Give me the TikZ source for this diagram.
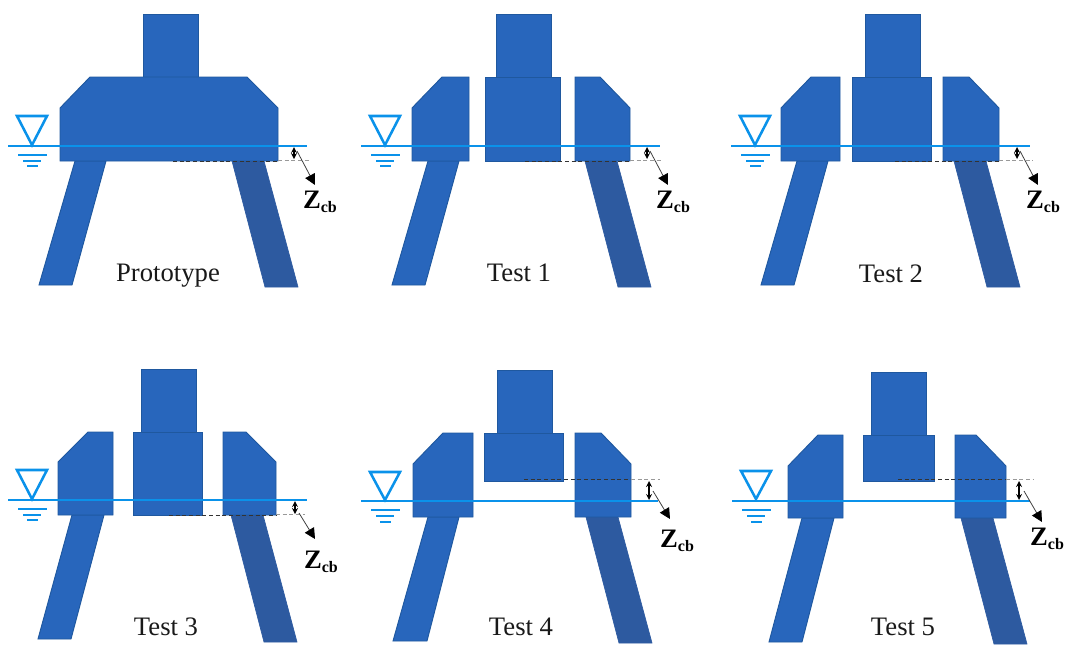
\documentclass[tikz,border=0pt]{standalone}
\usepackage{fontspec}
\setmainfont{Liberation Serif}
\usepackage{xcolor}
\usetikzlibrary{arrows.meta}
\definecolor{hullblue}{HTML}{2866BC}
\definecolor{edgeblue}{HTML}{1F589F}
\definecolor{legdark}{HTML}{2D5AA0}
\definecolor{waterblue}{HTML}{0A92EA}

\begin{document}
\begin{tikzpicture}[
        x=0.75pt, y=-0.75pt,
        >=stealth,
        body/.style={draw=edgeblue, fill=hullblue, line width=0.7pt},
        rearleg/.style={fill=legdark, draw=legdark, line width=0.5pt},
        water/.style={draw=waterblue, line width=1.9pt},
        ripple/.style={draw=waterblue, line width=1.5pt},
        datum/.style={densely dashed, black!80, line width=0.6pt},
        guide/.style={densely dashed, black!40, line width=0.6pt},
        depth/.style={<->, black, line width=1pt},
        lead/.style={-{Triangle[length=8pt,width=8pt,black]}, black!75, line width=0.6pt},
        caption/.style={font=\fontsize{20}{24}\selectfont, text=black!90, inner sep=0pt},
        zlabel/.style={font=\fontsize{20}{24}\selectfont\bfseries, inner sep=0pt}
    ]
        \useasboundingbox (0,0) rectangle (1065,644);

        % ================= PROTOTYPE =================

        % Patas
        \draw[body] (75,161) -- (106,161) -- (72,285) -- (39,285) -- cycle;
        \draw[rearleg] (232,161) -- (264,161) -- (298,287) -- (265,287) -- cycle;

        % Casco y torre
        \draw[body] (143,14) rectangle (198,77);
        \draw[body] (60,108) -- (90,77) -- (247,77) -- (278,108) -- (278,161) -- (60,161) -- cycle;

        % Nivel de agua
        \draw[water] (8,146) -- (307,146);
        \draw[water] (17,116) -- (47,116) -- (32,145) -- cycle;
        \draw[ripple] (18,155) -- (47,155);
        \draw[ripple] (23,160.5) -- (41,160.5);
        \draw[ripple] (27,166) -- (38,166);

        % Cota
        \draw[datum] (173,161) -- (278,161);
        \draw[guide] (278,160) -- (310,160);
        \coordinate (pa) at (294,147);
        \coordinate (pb) at (294,159);
        \coordinate (pc) at (297,151);
        \coordinate (pd) at (315,185);
        \draw[depth] (pa) -- (pb);
        \draw[lead] (pc) -- (pd);
        \node[zlabel] (pz) at (320,202) {Z{\fontsize{12}{12}\selectfont\raisebox{-3pt}{cb}}};
        \node[caption] (pname) at (168,276) {Prototype};

        % ================= TEST 1 =================

        % Patas
        \draw[body] (428,161) -- (459,161) -- (425,285) -- (392,285) -- cycle;
        \draw[rearleg] (585,161) -- (617,161) -- (651,287) -- (618,287) -- cycle;

        % Pontones y torre
        \draw[body] (496,14) rectangle (551,77);
        \draw[body] (485,77) rectangle (560,161);
        \draw[body] (412,108) -- (442,77) -- (469,77) -- (469,161) -- (412,161) -- cycle;
        \draw[body] (575,77) -- (600,77) -- (630,108) -- (630,161) -- (575,161) -- cycle;

        % Nivel de agua
        \draw[water] (361,146) -- (660,146);
        \draw[water] (370,116) -- (400,116) -- (385,145) -- cycle;
        \draw[ripple] (371,155) -- (400,155);
        \draw[ripple] (376,160.5) -- (394,160.5);
        \draw[ripple] (380,166) -- (391,166);

        % Cota
        \draw[datum] (525,161) -- (630,161);
        \draw[guide] (630,160) -- (663,160);
        \coordinate (aa) at (647,147);
        \coordinate (ab) at (647,159);
        \coordinate (ac) at (650,151);
        \coordinate (ad) at (668,185);
        \draw[depth] (aa) -- (ab);
        \draw[lead] (ac) -- (ad);
        \node[zlabel] (az) at (673,202) {Z{\fontsize{12}{12}\selectfont\raisebox{-3pt}{cb}}};
        \node[caption] (aname) at (519,273) {Test 1};

        % ================= TEST 2 =================

        % Patas
        \draw[body] (797,161) -- (828,161) -- (794,285) -- (761,285) -- cycle;
        \draw[rearleg] (954,161) -- (986,161) -- (1020,287) -- (987,287) -- cycle;

        % Pontones y torre
        \draw[body] (865,14) rectangle (920,77);
        \draw[body] (852,77) rectangle (931,161);
        \draw[body] (781,108) -- (811,77) -- (840,77) -- (840,161) -- (781,161) -- cycle;
        \draw[body] (943,77) -- (969,77) -- (999,108) -- (999,161) -- (943,161) -- cycle;

        % Nivel de agua
        \draw[water] (731,146) -- (1030,146);
        \draw[water] (740,116) -- (770,116) -- (755,145) -- cycle;
        \draw[ripple] (741,155) -- (770,155);
        \draw[ripple] (746,160.5) -- (764,160.5);
        \draw[ripple] (750,166) -- (761,166);

        % Cota
        \draw[datum] (895,161) -- (999,161);
        \draw[guide] (999,160) -- (1033,160);
        \coordinate (ba) at (1017,147);
        \coordinate (bb) at (1017,159);
        \coordinate (bc) at (1020,151);
        \coordinate (bd) at (1038,185);
        \draw[depth] (ba) -- (bb);
        \draw[lead] (bc) -- (bd);
        \node[zlabel] (bz) at (1043,202) {Z{\fontsize{12}{12}\selectfont\raisebox{-3pt}{cb}}};
        \node[caption] (bname) at (891,274) {Test 2};

        % ================= TEST 3 =================

        % Patas
        \draw[body] (72,515) -- (104,515) -- (71,639) -- (38,639) -- cycle;
        \draw[rearleg] (231,515) -- (263,515) -- (297,642) -- (264,642) -- cycle;

        % Pontones y torre
        \draw[body] (141,369) rectangle (196,432);
        \draw[body] (133,432) rectangle (202,515);
        \draw[body] (58,462) -- (88,432) -- (113,432) -- (113,515) -- (58,515) -- cycle;
        \draw[body] (223,432) -- (246,432) -- (276,462) -- (276,515) -- (223,515) -- cycle;

        % Nivel de agua
        \draw[water] (8,500) -- (307,500);
        \draw[water] (17,470) -- (47,470) -- (32,499) -- cycle;
        \draw[ripple] (18,509) -- (47,509);
        \draw[ripple] (23,514.5) -- (41,514.5);
        \draw[ripple] (27,520) -- (38,520);

        % Cota
        \draw[datum] (169,515) -- (276,515);
        \draw[guide] (276,514) -- (305,514);
        \coordinate (ca) at (295,501);
        \coordinate (cb) at (295,514);
        \coordinate (cc) at (299,513);
        \coordinate (cd) at (315,539);
        \draw[depth] (ca) -- (cb);
        \draw[lead] (cc) -- (cd);
        \node[zlabel] (cz) at (321,562) {Z{\fontsize{12}{12}\selectfont\raisebox{-3pt}{cb}}};
        \node[caption] (cname) at (166,627) {Test 3};

        % ================= TEST 4 =================

        % Patas
        \draw[body] (428,517) -- (459,517) -- (427,641) -- (393,641) -- cycle;
        \draw[rearleg] (586,517) -- (618,517) -- (652,643) -- (619,643) -- cycle;

        % Pontones y torre
        \draw[body] (497,370) rectangle (552,433);
        \draw[body] (484,433) rectangle (563,481);
        \draw[body] (413,464) -- (443,433) -- (473,433) -- (473,517) -- (413,517) -- cycle;
        \draw[body] (575,433) -- (601,433) -- (631,464) -- (631,517) -- (575,517) -- cycle;

        % Nivel de agua
        \draw[water] (361,501) -- (658,501);
        \draw[water] (370,472) -- (400,472) -- (385,500) -- cycle;
        \draw[ripple] (371,510) -- (400,510);
        \draw[ripple] (376,515.5) -- (394,515.5);
        \draw[ripple] (380,522) -- (391,522);

        % Cota
        \draw[datum] (524,479) -- (631,479);
        \draw[guide] (631,479) -- (660,479);
        \coordinate (da) at (649,481);
        \coordinate (db) at (649,500);
        \coordinate (dc) at (653,491);
        \coordinate (dd) at (670,519);
        \draw[depth] (da) -- (db);
        \draw[lead] (dc) -- (dd);
        \node[zlabel] (dz) at (677,541) {Z{\fontsize{12}{12}\selectfont\raisebox{-3pt}{cb}}};
        \node[caption] (dname) at (521,627) {Test 4};

        % ================= TEST 5 =================

        % Patas
        \draw[body] (802,518) -- (834,518) -- (802,642) -- (769,642) -- cycle;
        \draw[rearleg] (961,518) -- (993,518) -- (1027,644) -- (994,644) -- cycle;

        % Pontones y torre
        \draw[body] (871,372) rectangle (926,435);
        \draw[body] (863,435) rectangle (934,481);
        \draw[body] (788,466) -- (818,435) -- (843,435) -- (843,518) -- (788,518) -- cycle;
        \draw[body] (955,435) -- (976,435) -- (1006,466) -- (1006,518) -- (955,518) -- cycle;

        % Nivel de agua
        \draw[water] (732,501) -- (1030,501);
        \draw[water] (741,471) -- (771,471) -- (756,499) -- cycle;
        \draw[ripple] (742,510) -- (771,510);
        \draw[ripple] (747,515.5) -- (765,515.5);
        \draw[ripple] (751,522) -- (762,522);

        % Cota
        \draw[datum] (898,479) -- (1006,479);
        \draw[guide] (1006,479) -- (1033,479);
        \coordinate (ea) at (1019,481);
        \coordinate (eb) at (1019,500);
        \coordinate (ec) at (1024,491);
        \coordinate (ed) at (1042,522);
        \draw[depth] (ea) -- (eb);
        \draw[lead] (ec) -- (ed);
        \node[zlabel] (ez) at (1047,539) {Z{\fontsize{12}{12}\selectfont\raisebox{-3pt}{cb}}};
        \node[caption] (ename) at (903,627) {Test 5};

    \end{tikzpicture}
\end{document}
